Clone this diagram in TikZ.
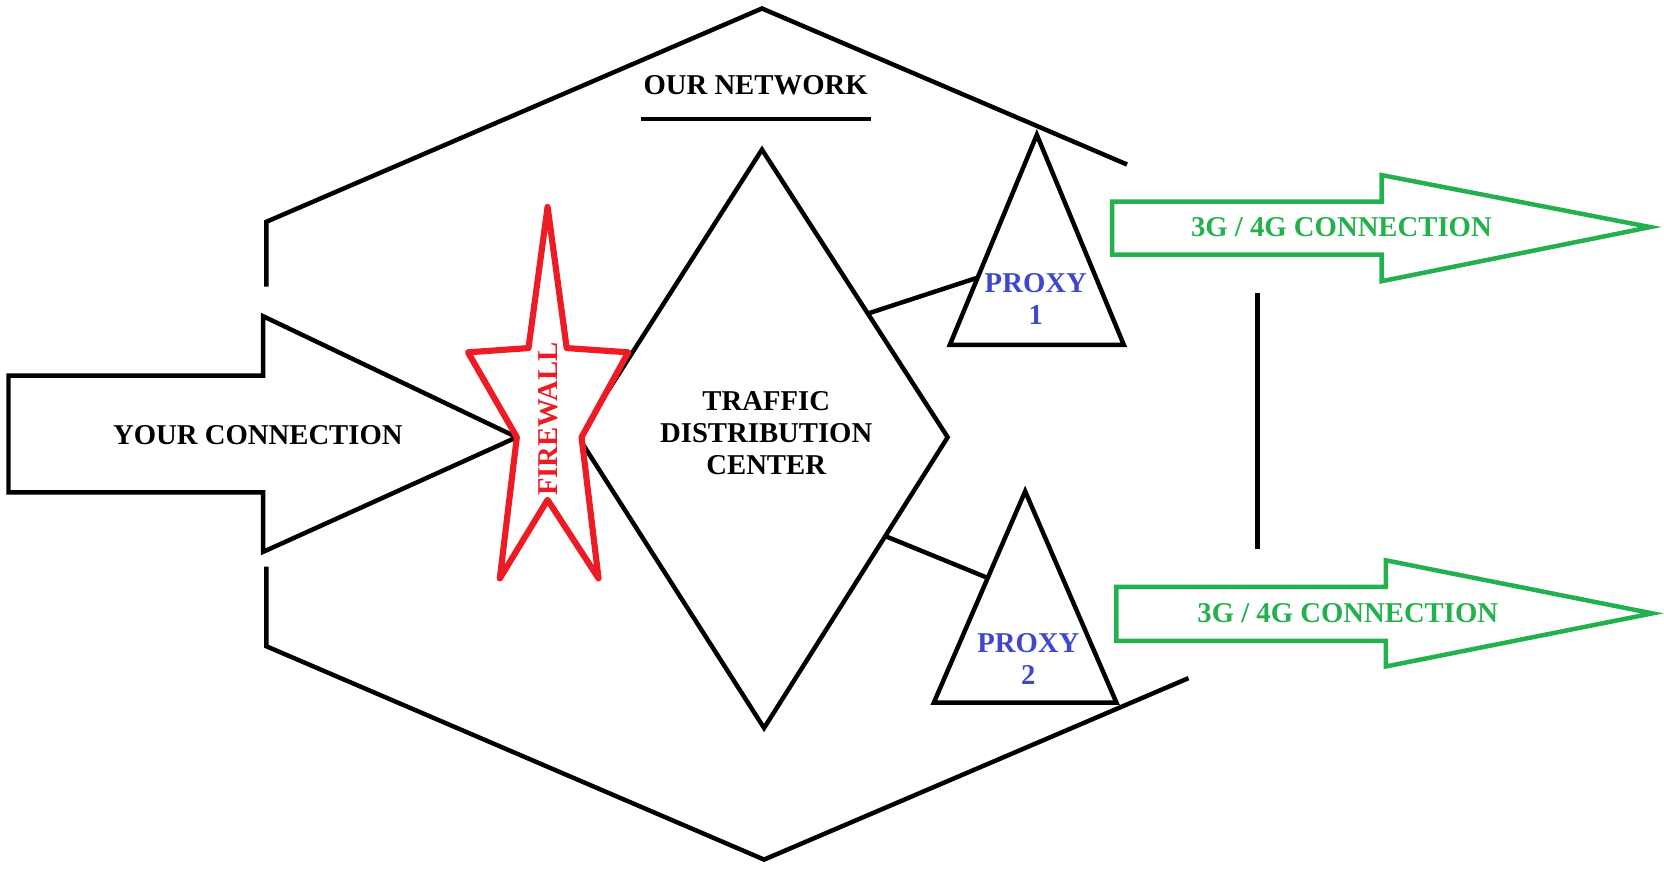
\documentclass[tikz,border=0pt]{standalone}
\usepackage{fontspec}
\setmainfont{Liberation Serif}
\usetikzlibrary{calc}
\definecolor{fwred}{RGB}{237,28,36}
\definecolor{netgreen}{RGB}{34,177,76}
\definecolor{proxyblue}{RGB}{63,72,204}

\begin{document}
\begin{tikzpicture}[x=0.02cm,y=-0.02cm,
  netline/.style={black,line width=2.4pt},
  greenarrow/.style={netgreen,line width=2.4pt},
  boldtext/.style={font=\fontsize{15.4}{17}\selectfont\bfseries,inner sep=0pt}]
\useasboundingbox (0,0) rectangle (1568,820);
% our network outline
\draw[netline] (251,270) -- (251,209) -- (718,8) -- (1062,155);
\draw[netline] (251,534) -- (251,609) -- (720,810) -- (1120,639);
\node[boldtext] (ournet) at (712,80) {OUR NETWORK};
\draw[netline] (604,112) -- (821,112);
% your connection
\draw[netline] (8,354) -- (248,354) -- (248,298) -- (487,412) -- (248,520) -- (248,464) -- (8,464) -- cycle;
\node[boldtext] (yourconn) at (243,410) {YOUR CONNECTION};
% traffic distribution center
\coordinate (dtop) at (718,141);
\coordinate (dright) at (893,412);
\coordinate (dbot) at (720,686);
\coordinate (dleft) at (545,412);
\draw[netline] (dtop) -- (dright) -- (dbot) -- (dleft) -- cycle;
\node[boldtext,align=center] (tdc) at (722,408) {TRAFFIC\\DISTRIBUTION\\CENTER};
% firewall
\draw[fwred,line width=3.3pt,line join=round,fill=white] (516,195) -- (534,328) -- (592,332) -- (548,412) -- (564,545) -- (516,471) -- (471,545) -- (487,412) -- (441,332) -- (498,328) -- cycle;
\node[boldtext,fwred,rotate=90] (firewall) at (517,395) {FIREWALL};
% proxies
\coordinate (p1top) at (977,127);
\coordinate (p1left) at (895,325);
\coordinate (p1right) at (1059,325);
\draw[netline] (p1top) -- (p1right) -- (p1left) -- cycle;
\node[boldtext,proxyblue,align=center] (proxy1) at (976,282) {PROXY\\1};
\coordinate (p2top) at (966,463);
\coordinate (p2left) at (880,662);
\coordinate (p2right) at (1052,662);
\draw[netline] (p2top) -- (p2right) -- (p2left) -- cycle;
\node[boldtext,proxyblue,align=center] (proxy2) at (969,621) {PROXY\\2};
\draw[netline] ($(dtop)!0.57!(dright)$) -- ($(p1top)!0.68!(p1left)$);
\draw[netline] ($(dright)!0.34!(dbot)$) -- ($(p2top)!0.41!(p2left)$);
% 3g / 4g links
\draw[greenarrow] (1048,190) -- (1302,190) -- (1302,165) -- (1555,214) -- (1302,265) -- (1302,240) -- (1048,240) -- cycle;
\node[boldtext,netgreen] (link1) at (1264,214) {3G / 4G CONNECTION};
\draw[greenarrow] (1052,553) -- (1306,553) -- (1306,528) -- (1557,578) -- (1306,628) -- (1306,604) -- (1052,604) -- cycle;
\node[boldtext,netgreen] (link2) at (1270,578) {3G / 4G CONNECTION};
\draw[netline] (1185,276) -- (1185,517);
\end{tikzpicture}
\end{document}
